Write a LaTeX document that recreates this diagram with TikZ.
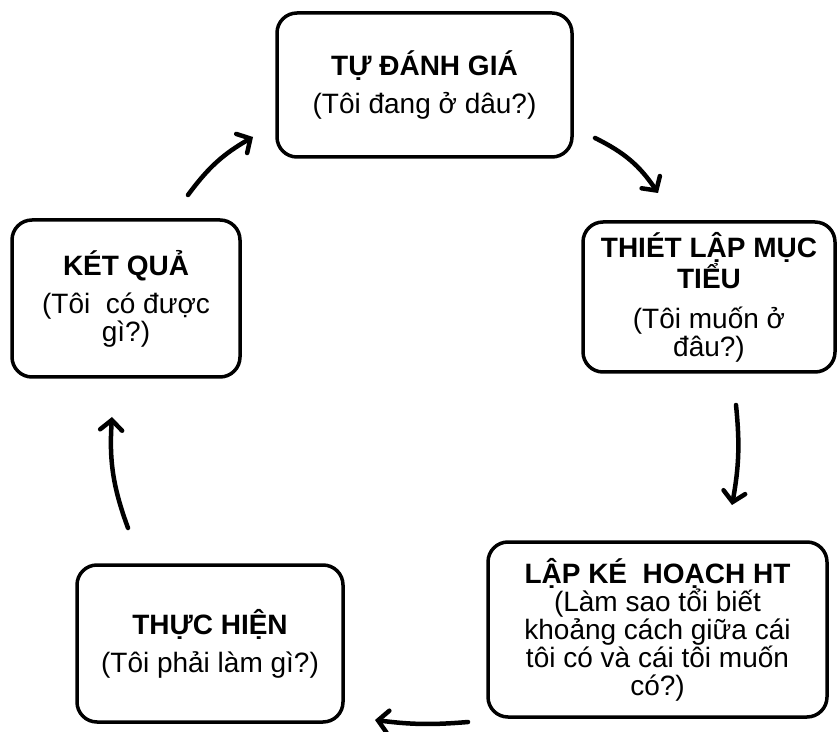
\documentclass[tikz,border=0pt]{standalone}
\usepackage{fontspec}
\setmainfont{Liberation Sans}
\usetikzlibrary{arrows.meta}
\tikzset{
  box/.style={draw, line width=3.5pt, rounded corners=20pt, align=center,
    font=\fontsize{28}{28}\selectfont, inner sep=0pt},
  arr/.style={line width=4.5pt, line cap=round,
    -{Straight Barb[length=10pt,width=22pt,line cap=round]}}
}
\begin{document}
\begin{tikzpicture}[x=1pt,y=1pt]
\useasboundingbox (0,0) rectangle (837,731);
\node[box, minimum width=295pt, minimum height=144pt] (b1) at (424.5,646)
  {\textbf{TỰ ĐÁNH GIÁ}\\[10pt](Tôi đang ở dâu?)};
\node[box, minimum width=252pt, minimum height=150pt] (b2) at (709,434)
  {\textbf{THIÉT LẬP MỤC}\\\textbf{TIỂU}\\[12pt](Tôi muốn ở\\đâu?)};
\node[box, minimum width=339pt, minimum height=175pt] (b3) at (657.5,101.5)
  {\textbf{LẬP KÉ\ \ HOẠCH HT}\\(Làm sao tổi biết\\khoảng cách giữa cái\\tôi có và cái tôi muốn\\có?)};
\node[box, minimum width=266pt, minimum height=157pt] (b4) at (210,87.5)
  {\textbf{THỰC HIỆN}\\[10pt](Tôi phải làm gì?)};
\node[box, minimum width=228pt, minimum height=157pt] (b5) at (126,432.5)
  {\textbf{KÉT QUẢ}\\[10pt](Tôi\ \ có được\\gì?)};
\coordinate (a1s) at (188,536);
\coordinate (a1e) at (253,594);
\coordinate (a2s) at (595,593);
\coordinate (a2e) at (658,538);
\coordinate (a3s) at (736,326);
\coordinate (a3e) at (732,226);
\coordinate (a4s) at (468,9);
\coordinate (a4e) at (375,11);
\coordinate (a5s) at (128,203);
\coordinate (a5e) at (112,314);
\draw[arr] (a1s) to[bend left=12] (a1e);
\draw[arr] (a2s) to[bend left=15] (a2e);
\draw[arr] (a3s) to[bend left=8] (a3e);
\draw[arr] (a4s) to[bend left=6] (a4e);
\draw[arr] (a5s) to[bend left=12] (a5e);
\end{tikzpicture}
\end{document}
